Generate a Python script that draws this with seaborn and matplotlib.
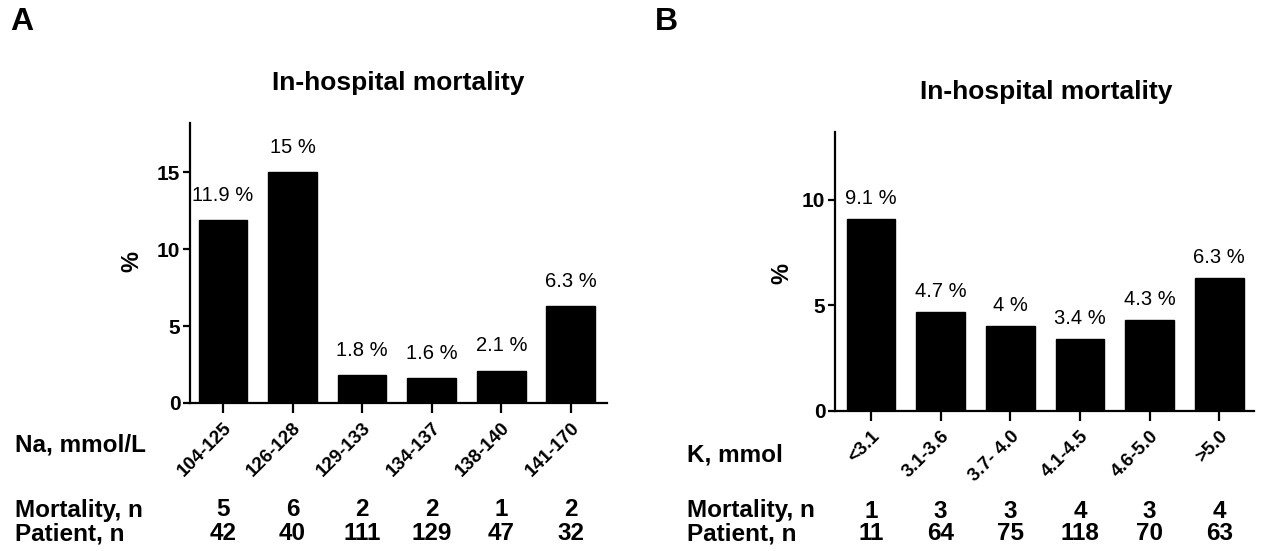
import matplotlib
matplotlib.use("Agg")
import matplotlib.pyplot as plt
import matplotlib.transforms as mtransforms
import seaborn as sns

# panel A: sodium
na_groups = ["104-125", "126-128", "129-133", "134-137", "138-140", "141-170"]
na_pct = [11.9, 15.0, 1.8, 1.6, 2.1, 6.3]
na_labels = ["11.9 %", "15 %", "1.8 %", "1.6 %", "2.1 %", "6.3 %"]
na_deaths = [5, 6, 2, 2, 1, 2]
na_patients = [42, 40, 111, 129, 47, 32]

# panel B: potassium
k_groups = ["<3.1", "3.1-3.6", "3.7- 4.0", "4.1-4.5", "4.6-5.0", ">5.0"]
k_pct = [9.1, 4.7, 4.0, 3.4, 4.3, 6.3]
k_labels = ["9.1 %", "4.7 %", "4 %", "3.4 %", "4.3 %", "6.3 %"]
k_deaths = [1, 3, 3, 4, 3, 4]
k_patients = [11, 64, 75, 118, 70, 63]

sns.set_style("ticks")
plt.rcParams["font.family"] = ["Liberation Sans", "DejaVu Sans"]
plt.rcParams["text.color"] = "black"
plt.rcParams["xtick.color"] = "black"
plt.rcParams["ytick.color"] = "black"
plt.rcParams["axes.edgecolor"] = "black"

W, H = 1266, 551
fig = plt.figure(figsize=(W / 100, H / 100), dpi=100)


def px(x, y):
    return x / W, 1 - y / H


def panel(rect, groups, pct, labels, deaths, patients, ymax, yticks, xlim,
          lab_off, title_xy, ylab_xy, row_name, row_xy, row_x, rows_y):
    l, t, r, b = rect
    ax = fig.add_axes([l / W, 1 - b / H, (r - l) / W, (b - t) / H])
    sns.barplot(x=groups, y=pct, ax=ax, color="black", saturation=1,
                width=0.7, edgecolor="black", linewidth=1)
    ax.set_ylim(0, ymax)
    ax.set_xlim(*xlim)
    ax.set_yticks(yticks)
    ax.set_yticklabels([str(v) for v in yticks], fontsize=15, fontweight="bold")
    ax.set_xticks(range(len(groups)))
    ax.set_xticklabels(groups, rotation=45, ha="right", rotation_mode="anchor",
                       fontsize=13.5, fontweight="bold")
    sns.despine(ax=ax)
    for s in ("left", "bottom"):
        ax.spines[s].set_linewidth(1.6)
    ax.tick_params(axis="y", length=5, width=1.6, pad=2)
    ax.tick_params(axis="x", length=7, width=1.6, pad=5)
    ax.set_xlabel("")
    ax.set_ylabel("")

    for i, (v, s) in enumerate(zip(pct, labels)):
        ax.annotate(s, (i, v), xytext=(0, lab_off), textcoords="offset points",
                    ha="center", va="bottom", fontsize=14.5)

    fig.text(*px(*title_xy), "In-hospital mortality", ha="center", va="center",
             fontsize=19, fontweight="bold")
    fig.text(*px(*ylab_xy), "%", ha="center", va="center", rotation=90,
             fontsize=17, fontweight="bold")

    fig.text(*px(*row_xy), row_name, ha="left", va="center", fontsize=17.5,
             fontweight="bold")
    fig.text(*px(row_x, rows_y[0]), "Mortality, n", ha="left", va="center",
             fontsize=17.5, fontweight="bold")
    fig.text(*px(row_x, rows_y[1]), "Patient, n", ha="left", va="center",
             fontsize=17.5, fontweight="bold")
    trans = mtransforms.blended_transform_factory(ax.transData, fig.transFigure)
    for i, (d, p) in enumerate(zip(deaths, patients)):
        ax.text(i, 1 - rows_y[0] / H, str(d), transform=trans, ha="center",
                va="center", fontsize=17.5, fontweight="bold")
        ax.text(i, 1 - rows_y[1] / H, str(p), transform=trans, ha="center",
                va="center", fontsize=17.5, fontweight="bold")
    return ax


panel((190, 123, 607, 403), na_groups, na_pct, na_labels, na_deaths, na_patients,
      18.2, [0, 5, 10, 15], (-0.474, 5.52), 11,
      (398, 83), (132, 262), "Na, mmol/L", (15, 445), 15, (510, 534))

panel((835, 132, 1254, 411), k_groups, k_pct, k_labels, k_deaths, k_patients,
      13.2, [0, 5, 10], (-0.517, 5.5), 8,
      (1046, 92), (782, 273), "K, mmol", (687, 455), 687, (511, 534))

fig.text(*px(22, 22), "A", ha="center", va="center", fontsize=23, fontweight="bold")
fig.text(*px(666, 22), "B", ha="center", va="center", fontsize=23, fontweight="bold")

fig.savefig("out.png", dpi=100, facecolor="white")
